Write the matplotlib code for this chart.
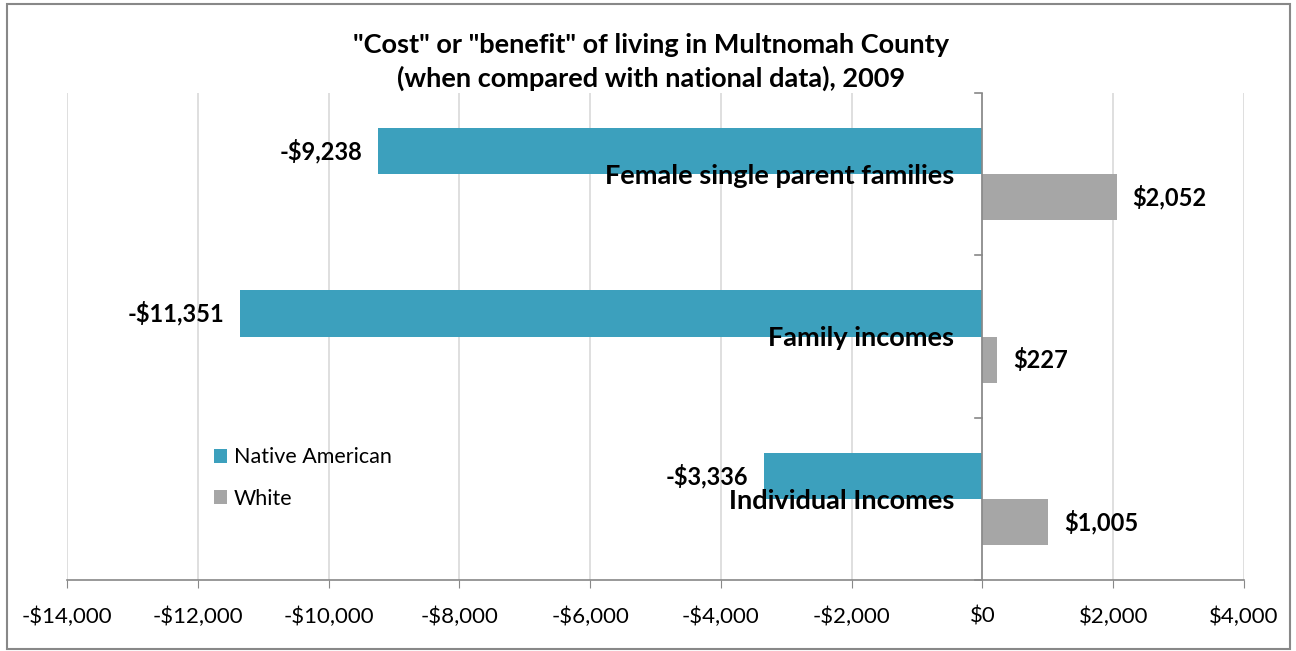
import numpy as np
import matplotlib.pyplot as plt
from matplotlib.patches import Rectangle

plt.rcParams['font.family'] = ['Lato', 'DejaVu Sans']

categories = ['Individual Incomes', 'Family incomes', 'Female single parent families']
native = [-3336, -11351, -9238]
white = [1005, 227, 2052]
series_names = ['Native American', 'White']
xticks = np.arange(-14000, 4001, 2000)

teal = '#3CA0BD'
grey = '#A6A6A6'

fig = plt.figure(figsize=(12.96, 6.51), dpi=100)
ax = fig.add_axes([67/1296, 1-580/651, (1244-67)/1296, (580-93)/651])

y = np.arange(len(categories))
h = 0.284
b1 = ax.barh(y + h/2, native, height=h, color=teal, label=series_names[0], zorder=3)
b2 = ax.barh(y - h/2, white, height=h, color=grey, label=series_names[1], zorder=3)

def money(v):
    return ('-$' if v < 0 else '$') + format(abs(int(v)), ',')

for bars in (b1, b2):
    for r in bars:
        v = r.get_width()
        yc = r.get_y() + r.get_height()/2
        off = -16 if v < 0 else 16
        ax.annotate(money(v), (v, yc), xytext=(off, 0), textcoords='offset pixels',
                    ha='right' if v < 0 else 'left', va='center',
                    fontsize=17, fontweight='bold', zorder=5)

for i, c in enumerate(categories):
    ax.annotate(c, (0, i), xytext=(-28, -2), textcoords='offset pixels',
                ha='right', va='center', fontsize=19.5, fontweight='bold', zorder=6)

ax.set_xlim(-14000, 4000)
ax.set_ylim(-0.5, 2.5)
ax.set_xticks(xticks)
ax.set_xticklabels([money(t) if t != 0 else '$0' for t in xticks], fontsize=16)
ax.tick_params(axis='x', length=6, color='#888888', pad=13)
ax.grid(axis='x', color='#D9D9D9', lw=1.2, zorder=0)

# vertical axis at zero with category boundary ticks
ax.set_yticks([])
ax.axvline(0, color='#888888', lw=1.2, zorder=4)
for yb in [-0.5, 0.5, 1.5, 2.5]:
    ax.plot([-120, 0], [yb, yb], color='#888888', lw=1.2, zorder=4, clip_on=False)

for s in ['top', 'right', 'left']:
    ax.spines[s].set_visible(False)
ax.spines['bottom'].set_color('#888888')
ax.spines['bottom'].set_linewidth(1.2)

ax.legend(loc='upper left', bbox_to_anchor=(128/1177, 1-335/487), frameon=False,
          fontsize=15.5, handlelength=0.6, handleheight=0.6, handletextpad=0.3,
          labelspacing=1.0)

fig.text(651/1296, 1-45/651, '"Cost" or "benefit" of living in Multnomah County',
         ha='center', va='center', fontsize=19.5, fontweight='bold')
fig.text(651/1296, 1-78/651, '(when compared with national data), 2009',
         ha='center', va='center', fontsize=19.5, fontweight='bold')

fig.patches.append(Rectangle((7/1296, 2/651), 1283/1296, 645/651, transform=fig.transFigure,
                             fill=False, edgecolor='#888888', lw=1.5))

fig.savefig('out.png', dpi=100)
